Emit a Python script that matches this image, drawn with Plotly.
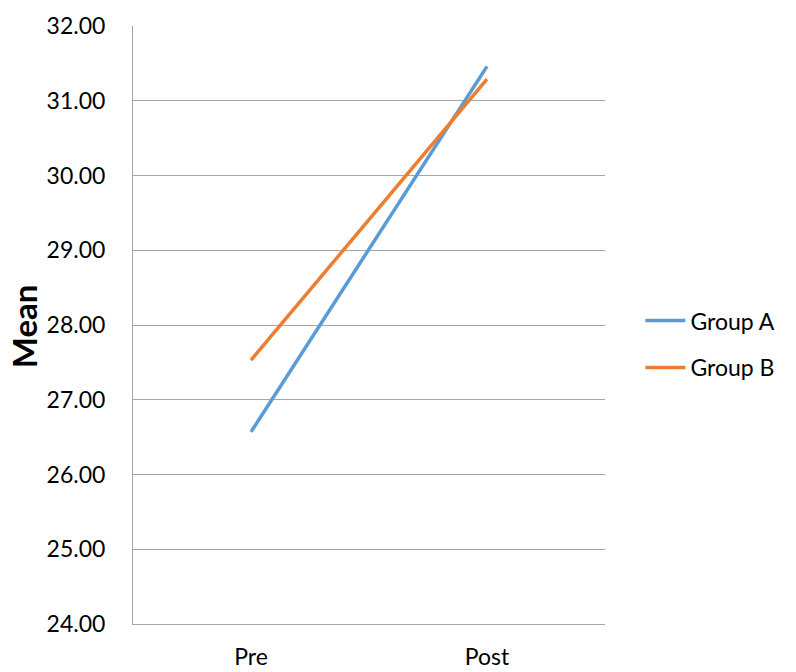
import plotly.graph_objects as go

# Means by time point
time_points = ["Pre", "Post"]
group_a = [26.57, 31.46]
group_b = [27.53, 31.29]
y_ticks = [24, 25, 26, 27, 28, 29, 30, 31, 32]

FONT = "Lato"
GRID = "#A6A6A6"

fig = go.Figure()
fig.add_trace(go.Scatter(x=time_points, y=group_a, mode="lines", name="Group A",
                         legendgroup="a",
                         line=dict(color="#5B9BD5", width=3.5)))
fig.add_trace(go.Scatter(x=time_points, y=group_b, mode="lines", name="Group B",
                         legendgroup="b",
                         line=dict(color="#ED7D31", width=3.5)))

# Vertical y-axis title placed in the left margin
fig.add_annotation(text="<b>Mean</b>", textangle=-90,
                   xref="paper", yref="paper", x=(24 - 133) / 472, y=0.498,
                   xanchor="center", yanchor="middle", showarrow=False,
                   font=dict(family=FONT, size=33, color="black"))

fig.update_layout(
    width=796, height=672,
    margin=dict(l=133, r=191, t=26, b=48),
    paper_bgcolor="white", plot_bgcolor="white",
    font=dict(family=FONT, size=23, color="black"),
    showlegend=True,
    legend=dict(x=1.075, y=0.468, xanchor="left", yanchor="middle",
                font=dict(size=23), tracegroupgap=14, itemwidth=40),
    xaxis=dict(type="category", range=[-0.5, 1.5], showgrid=False,
               showline=True, linecolor=GRID, linewidth=1, ticks="",
               automargin=False,
               ticklabelstandoff=12, tickfont=dict(size=23)),
    yaxis=dict(range=[24, 32], tickvals=y_ticks,
               ticktext=[f"{v:.2f}" for v in y_ticks],
               showgrid=True, gridcolor=GRID, gridwidth=1,
               showline=True, linecolor=GRID, linewidth=1, ticks="",
               automargin=False,
               zeroline=False, ticklabelstandoff=22, tickfont=dict(size=23)),
)

fig.write_html("out.html")
